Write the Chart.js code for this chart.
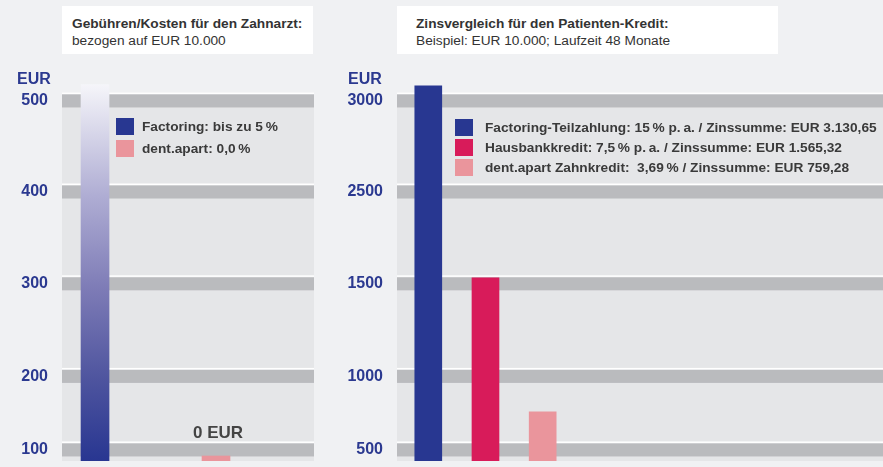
<!DOCTYPE html>
<html lang="de">
<head>
<meta charset="utf-8">
<script src="https://cdn.jsdelivr.net/npm/chart.js@4.4.1/dist/chart.umd.min.js"></script>
<style>
  html, body { margin: 0; padding: 0; }
  body { width: 883px; height: 467px; background: #f0f1f3; position: relative; overflow: hidden;
         font-family: "Liberation Sans", Arial, sans-serif; }
  canvas { position: absolute; top: 0; }
  .title { position: absolute; top: 6px; height: 48px; background: #fff; box-sizing: border-box;
           padding: 9px 0 0 10px; color: #333; font-size: 13.7px; line-height: 17px; }
  .title b { display: block; }
  .unit { position: absolute; top: 71px; color: #2b3990; font-weight: bold; font-size: 16px; line-height: 16px; }
</style>
</head>
<body>
<canvas id="left" width="330" height="467" style="left:0"></canvas>
<canvas id="right" width="553" height="467" style="left:330px"></canvas>

<div class="title" style="left:62px; width:251px"><b>Gebühren/Kosten für den Zahnarzt:</b>bezogen auf EUR 10.000</div>
<div class="title" style="left:397px; width:381px; padding-left:19px"><b>Zinsvergleich für den Patienten-Kredit:</b>Beispiel: EUR 10.000; Laufzeit 48 Monate</div>
<div class="unit" style="left:17px">EUR</div>
<div class="unit" style="left:348px">EUR</div>

<script>
// left panel: fees for the dentist
var leftCategories = ["Factoring", "dent.apart"];
var leftValues = [518, 0];
var leftBarLabels = ["", "0 EUR"];
var leftLegend = ["Factoring: bis zu 5\u2009%", "dent.apart: 0,0\u2009%"];
var leftTicks = [100, 200, 300, 400, 500];

// right panel: interest comparison
var rightCategories = ["Factoring-Teilzahlung", "Hausbankkredit", "dent.apart Zahnkredit"];
var rightValues = [3130.65, 1565.32, 759.28];
var rightLegend = [
    "Factoring-Teilzahlung: 15\u2009% p.\u2009a. / Zinssumme: EUR 3.130,65",
    "Hausbankkredit: 7,5\u2009% p.\u2009a. / Zinssumme: EUR 1.565,32",
    "dent.apart Zahnkredit:  3,69\u2009% / Zinssumme: EUR 759,28"
];
var rightTicks = [500, 1000, 1500, 2500, 3000];

var BLUE = "#283791";
var MAGENTA = "#d81b5a";
var PINK = "#ea959c";
var TICK_BLUE = "#2b3990";

// the printed axis is not linear: each tick value sits on its own band
class BandScale extends Chart.LinearScale {
    static id = "band";
    static defaults = {};

    determineDataLimits() {
        var stops = this.options.stops;
        this.min = stops[0][0];
        this.max = stops[stops.length - 1][0];
    }

    buildTicks() {
        return this.options.tickValues.map(function (v) { return { value: v }; });
    }

    getPixelForValue(value) {
        var stops = this.options.stops;
        var i = 1;
        while (i < stops.length - 1 && value > stops[i][0]) i++;
        var a = stops[i - 1], b = stops[i];
        var dec = a[1] + (value - a[0]) / (b[0] - a[0]) * (b[1] - a[1]);
        return this.getPixelForDecimal(dec);
    }

    getValueForPixel(pixel) {
        var stops = this.options.stops;
        var dec = this.getDecimalForPixel(pixel);
        var i = 1;
        while (i < stops.length - 1 && dec > stops[i][1]) i++;
        var a = stops[i - 1], b = stops[i];
        return a[0] + (dec - a[1]) / (b[1] - a[1]) * (b[0] - a[0]);
    }
}
Chart.register(BandScale);

var panelPlugin = {
    id: "panel",
    beforeDatasetsDraw: function (chart) {
        var ctx = chart.ctx;
        var a = chart.chartArea;
        var y = chart.scales.y;
        var pix = y.ticks.map(function (t) { return y.getPixelForValue(t.value); });
        var top = Math.min.apply(null, pix) - 8.5;
        ctx.save();
        ctx.fillStyle = "#e5e6e8";
        ctx.fillRect(a.left, top, a.right - a.left, a.bottom - top);
        pix.forEach(function (p) {
            ctx.fillStyle = "#ffffff";
            ctx.fillRect(a.left, p - 8.5, a.right - a.left, 1.5);
            ctx.fillStyle = "#babbbe";
            ctx.fillRect(a.left, p - 6.5, a.right - a.left, 13);
        });
        ctx.restore();
    },
    afterDatasetsDraw: function (chart, args, opts) {
        var ctx = chart.ctx;
        var a = chart.chartArea;
        ctx.save();
        // legend inside the plot
        ctx.font = "bold 13.7px 'Liberation Sans', Arial, sans-serif";
        ctx.textBaseline = "middle";
        ctx.textAlign = "left";
        opts.items.forEach(function (label, i) {
            var x = a.left + opts.x;
            var yy = opts.y + i * opts.pitch;
            ctx.fillStyle = opts.colors[i];
            ctx.fillRect(x, yy, 18, 17);
            ctx.fillStyle = "#3a3a3a";
            ctx.fillText(label, x + opts.textGap, yy + 9);
        });
        // value labels above bars
        if (opts.barLabels) {
            var meta = chart.getDatasetMeta(0);
            ctx.font = "bold 17px 'Liberation Sans', Arial, sans-serif";
            ctx.textAlign = "center";
            ctx.textBaseline = "alphabetic";
            ctx.fillStyle = "#444444";
            meta.data.forEach(function (bar, i) {
                if (opts.barLabels[i]) {
                    ctx.fillText(opts.barLabels[i], bar.x + 2, bar.y - 18);
                }
            });
        }
        ctx.restore();
    }
};

function fadeBlue(context) {
    var area = context.chart.chartArea;
    if (!area) return BLUE;
    var g = context.chart.ctx.createLinearGradient(0, area.top, 0, area.bottom);
    g.addColorStop(0, "#f8f8fb");
    g.addColorStop(0.3, "#b0aed4");
    g.addColorStop(0.55, "#7d7bb6");
    g.addColorStop(0.78, "#4f559f");
    g.addColorStop(1, "#283691");
    return g;
}

function makeChart(id, cfg) {
    return new Chart(document.getElementById(id), {
        type: "bar",
        data: {
            labels: cfg.categories,
            datasets: [{
                data: cfg.values.map(function (v, i) { return { x: i + 1, y: v }; }),
                backgroundColor: cfg.barColor,
                barThickness: cfg.barThickness,
                minBarLength: 5,
                borderWidth: 0
            }]
        },
        options: {
            responsive: false,
            animation: false,
            devicePixelRatio: 1,
            layout: { autoPadding: false, padding: { top: 80, bottom: 6, left: 0, right: cfg.padRight } },
            plugins: {
                legend: { display: false },
                tooltip: { enabled: false },
                panel: {
                    items: cfg.legend,
                    colors: cfg.legendColors,
                    x: cfg.legendX,
                    y: cfg.legendY,
                    pitch: cfg.legendPitch,
                    textGap: cfg.textGap,
                    barLabels: cfg.barLabels
                }
            },
            scales: {
                x: { type: "linear", offset: false, min: cfg.xMin, max: cfg.xMax, display: false },
                y: {
                    type: "band",
                    stops: cfg.stops,
                    tickValues: cfg.ticks,
                    afterFit: function (scale) {
                        scale.width = cfg.axisWidth;
                        scale.paddingTop = 0;
                        scale.paddingBottom = 0;
                    },
                    grid: { display: false, drawTicks: false },
                    border: { display: false },
                    ticks: {
                        autoSkip: false,
                        padding: 14,
                        color: TICK_BLUE,
                        font: { family: "'Liberation Sans', Arial, sans-serif", size: 16, weight: "bold" },
                        callback: function (v) { return String(v); }
                    }
                }
            }
        },
        plugins: [panelPlugin]
    });
}

makeChart("left", {
    categories: leftCategories,
    values: leftValues,
    ticks: leftTicks,
    stops: [[0, 0], [100, 0.029], [200, 0.222], [300, 0.465], [400, 0.706], [500, 0.945], [523, 1]],
    barColor: function (c) { return c.dataIndex === 0 ? fadeBlue(c) : PINK; },
    barThickness: 28,
    barLabels: leftBarLabels,
    legend: leftLegend,
    legendColors: [BLUE, PINK],
    legendX: 54, legendY: 118, legendPitch: 22, textGap: 26,
    xMin: 0.727, xMax: 2.81,
    axisWidth: 62, padRight: 16
});

makeChart("right", {
    categories: rightCategories,
    values: rightValues,
    ticks: rightTicks,
    stops: [[0, 0], [500, 0.029], [1000, 0.222], [1500, 0.465], [2500, 0.706], [3000, 0.945], [3180, 1]],
    barColor: [BLUE, MAGENTA, PINK],
    barThickness: 27,
    barLabels: null,
    legend: rightLegend,
    legendColors: [BLUE, MAGENTA, PINK],
    legendX: 58, legendY: 119, legendPitch: 20, textGap: 30,
    xMin: 0.453, xMax: 8.95,
    axisWidth: 67, padRight: 0
});
</script>
</body>
</html>
